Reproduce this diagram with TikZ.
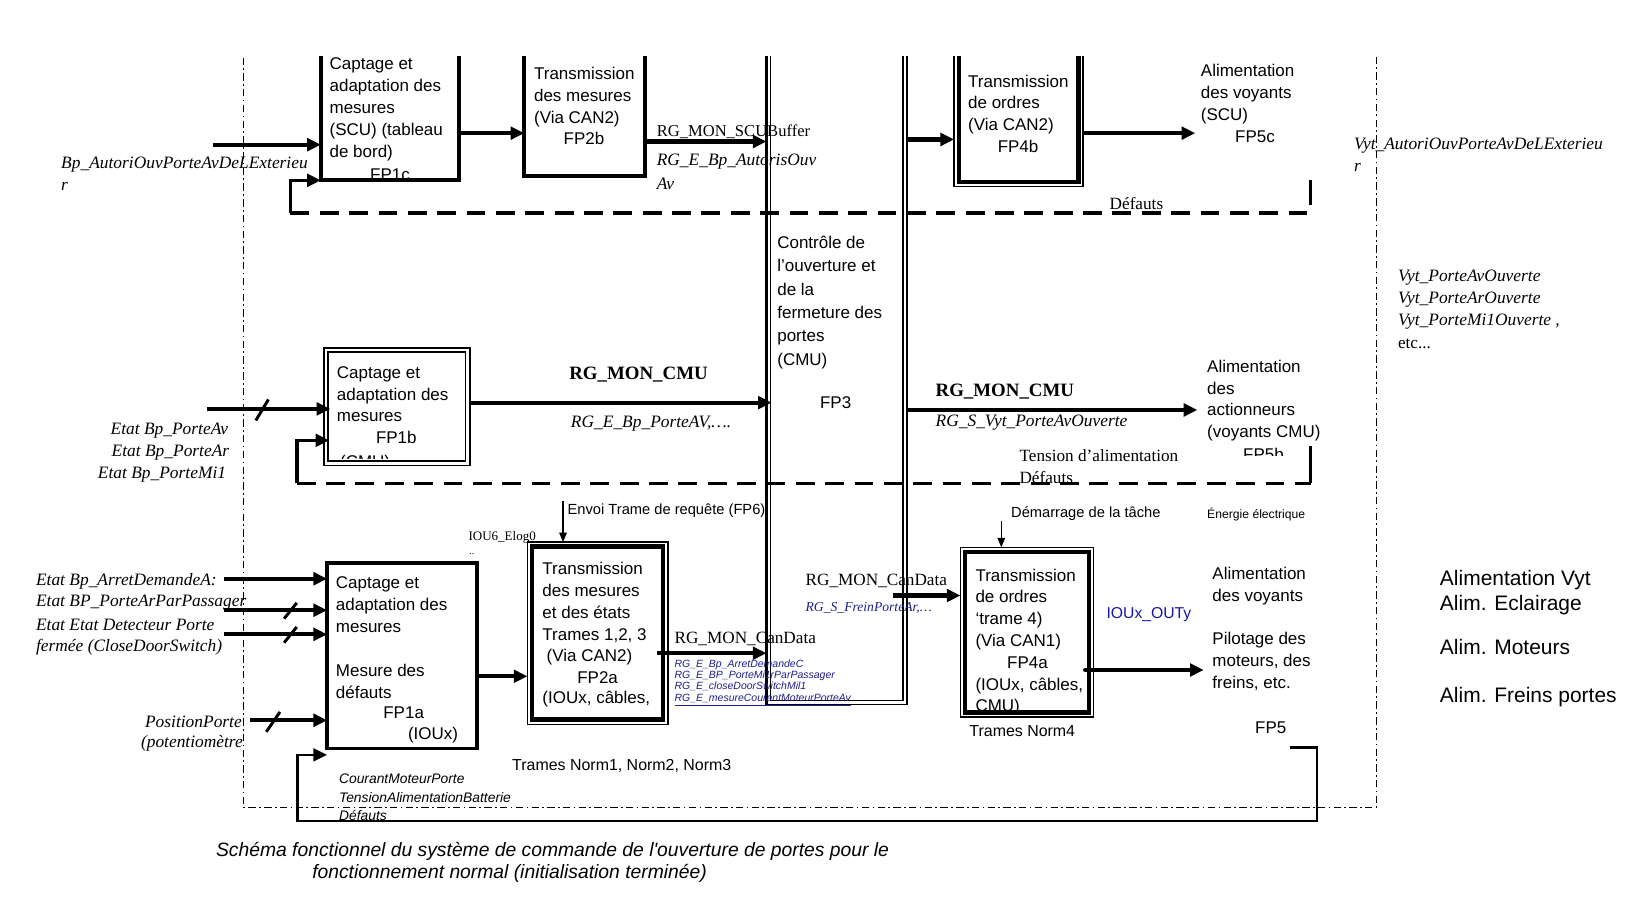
\documentclass[tikz,border=0pt]{standalone}
\usepackage{fontspec}
\setmainfont{Liberation Serif}
\newfontfamily\arl{Liberation Sans}
\newfontfamily\tms{Liberation Serif}
\usetikzlibrary{arrows.meta,calc}
\newcommand\bxf{\arl\fontsize{8.1}{10.4}\selectfont}
\definecolor{navyb}{RGB}{30,30,140}
\definecolor{blueb}{RGB}{20,20,170}
\begin{document}
\begin{tikzpicture}[x=0.5pt,y=-0.5pt,
 rect/.style={draw, rectangle, inner sep=0pt, outer sep=0pt},
 bt/.style={font=\bxf, inner sep=0pt, align=left},
 ar/.style={line width=2pt, -{Triangle[length=6.5pt,width=6pt]}},
 tar/.style={line width=0.6pt, -{Triangle[length=4.5pt,width=3.6pt]}},
 dsh/.style={line width=1.7pt, dash pattern=on 9pt off 5pt},
 frm/.style={line width=0.6pt, dash pattern=on 3.5pt off 1.6pt on 0.8pt off 1.6pt},
 sl/.style={line width=1.4pt},
 it/.style={font=\tms\itshape\fontsize{8.3}{9}\selectfont, inner sep=0pt},
 rm/.style={font=\tms\fontsize{8.2}{9}\selectfont, inner sep=0pt},
 bd/.style={font=\tms\bfseries\fontsize{9}{10}\selectfont, inner sep=0pt},
 sa/.style={font=\arl\fontsize{7}{8}\selectfont, inner sep=0pt},
 sai/.style={font=\arl\itshape\fontsize{6.6}{8}\selectfont, inner sep=0pt},
 big/.style={font=\arl\fontsize{10}{12}\selectfont, inner sep=0pt},
 capt/.style={font=\arl\itshape\fontsize{9.2}{11}\selectfont, inner sep=0pt}
 ]
\useasboundingbox (0,0) rectangle (1568,877);
\begin{scope}
\clip (0,54) rectangle (1568,877);

% frame
\draw[frm] (232,40) -- (232,770) -- (1313,770) -- (1313,40);

% ---------- boxes ----------
\node[rect, line width=1.8pt, minimum width=66pt, minimum height=76pt] (fp1c) at (372,96) {};
\node[rect, line width=1.8pt, minimum width=57.5pt, minimum height=74pt] (fp2b) at (557.5,94) {};
\node[rect, line width=0.8pt, minimum width=67pt, minimum height=326pt] (fp3) at (798,346) {};
\draw[line width=0.8pt] ([shift={(4,4)}]fp3.north west) rectangle ([shift={(-4,-4)}]fp3.south east);
\draw[line width=1.6pt] (fp3.north west) -- (fp3.south west);
\node[rect, line width=0.7pt, minimum width=61.5pt, minimum height=79pt] (fp4b) at (971.5,99) {};
\draw[line width=2.2pt] ([shift={(4.5,4.5)}]fp4b.north west) rectangle ([shift={(-4.5,-4.5)}]fp4b.south east);
\node[rect, line width=0.8pt, minimum width=69.5pt, minimum height=56pt] (fp1b) at (378.5,388) {};
\draw[line width=0.8pt] ([shift={(4,4)}]fp1b.north west) rectangle ([shift={(-4,-4)}]fp1b.south east);
\node[rect, line width=1.6pt, minimum width=71.5pt, minimum height=88.5pt] (fp1a) at (383.5,625.5) {};
\node[rect, line width=0.7pt, minimum width=67pt, minimum height=87pt] (fp2a) at (570,604) {};
\draw[line width=2.2pt] ([shift={(4.5,4.5)}]fp2a.north west) rectangle ([shift={(-4.5,-4.5)}]fp2a.south east);
\node[rect, line width=0.7pt, minimum width=63.5pt, minimum height=81pt] (fp4a) at (979.5,603) {};
\draw[line width=2.2pt] ([shift={(4.5,4.5)}]fp4a.north west) rectangle ([shift={(-4.5,-4.5)}]fp4a.south east);

% ---------- box texts ----------
\begin{scope}
\clip ([shift={(3,3)}]fp1c.north west) rectangle ([shift={(-3,-3)}]fp1c.south east);
\node[bt, anchor=north west] (fp1ct) at (314,55) {Captage et\\adaptation des\\mesures\\(SCU) (tableau\\de bord)};
\node[bt] (fp1cl) at (372,167) {FP1c};
\end{scope}
\node[bt, anchor=north west] (fp2bt) at (509,64) {Transmission\\des mesures\\(Via CAN2)};
\node[bt] (fp2bl) at (557,132) {FP2b};
\node[bt, anchor=north west, font=\arl\fontsize{8.1}{11.1}\selectfont] (fp3t) at (741,225) {Contrôle de\\l’ouverture et\\de la\\fermeture des\\portes\\(CMU)};
\node[bt] (fp3l) at (797,384) {FP3};
\node[bt, anchor=north west] (fp4bt) at (923,71) {Transmission\\de ordres\\(Via CAN2)};
\node[bt] (fp4bl) at (971,140) {FP4b};
\begin{scope}
\clip ([shift={(5,5)}]fp1b.north west) rectangle ([shift={(-5,-7)}]fp1b.south east);
\node[bt, anchor=north west] (fp1bt) at (321,349) {Captage et\\adaptation des\\mesures};
\node[bt] (fp1bl) at (378,417) {FP1b};
\node[bt, anchor=west] (fp1bc) at (324,442) {(CMU)};
\end{scope}
\node[bt, anchor=north west] (fp1at) at (320,550) {Captage et\\adaptation des\\mesures};
\node[bt, anchor=north west] (fp1au) at (320,633) {Mesure des\\défauts};
\node[bt] (fp1al) at (385,680) {FP1a};
\node[bt] (fp1ai) at (413,701) {(IOUx)};
\begin{scope}
\clip ([shift={(6,6)}]fp2a.north west) rectangle ([shift={(-6,-7)}]fp2a.south east);
\node[bt, anchor=north west] (fp2at) at (517,536) {Transmission\\des mesures\\et des états\\Trames 1,2, 3\\\hspace*{2pt}(Via CAN2)};
\node[bt] (fp2al) at (570,646) {FP2a};
\node[bt, anchor=west] (fp2ai) at (517,667) {(IOUx, câbles,};
\end{scope}
\begin{scope}
\clip ([shift={(6,6)}]fp4a.north west) rectangle ([shift={(-6,-7)}]fp4a.south east);
\node[bt, anchor=north west] (fp4at) at (930,542) {Transmission\\de ordres\\‘trame 4)\\(Via CAN1)};
\node[bt] (fp4al) at (980,632) {FP4a};
\node[bt, anchor=north west] (fp4ai) at (930,646) {(IOUx, câbles,\\CMU)};
\end{scope}

% ---------- outputs ----------
\node[bt, anchor=north west] (fp5c) at (1145,61) {Alimentation\\des voyants\\(SCU)};
\node[bt] (fp5cl) at (1197,130) {FP5c};
\node[bt, anchor=north west] (fp5b) at (1151,343) {Alimentation\\des\\actionneurs\\(voyants CMU)};
\begin{scope}
\clip (1150,420) rectangle (1260,434);
\node[bt] (fp5bl) at (1205,433) {FP5b};
\end{scope}
\node[bt, anchor=north west] (fp5a) at (1156,541) {Alimentation\\des voyants};
\node[bt, anchor=north west] (fp5p) at (1156,603) {Pilotage des\\moteurs, des\\freins, etc.};
\node[bt] (fp5l) at (1212,694) {FP5};

% ---------- top row connectors ----------
\coordinate (in1c) at (203,138);
\draw[ar] (in1c) -- (in1c -| fp1c.west);
\draw[ar] (fp1c.east |- 0,127) -- (fp2b.west |- 0,127);
\draw[ar] (fp2b.east |- 0,135) -- (fp3.west |- 0,135);
\draw[ar] (fp3.east |- 0,133) -- (fp4b.west |- 0,133);
\draw[ar] (fp4b.east |- 0,127) -- ($(fp5c.west |- 0,127)+(-5,0)$);
\coordinate (lpa) at (277,203);
\coordinate (lpb) at (1250,203);
\coordinate (lpc) at (1250,172);
\coordinate (lpd) at (1250,196);
\draw[ar, line width=1.7pt] (lpa) -- (lpa |- fp1c.south) -- (fp1c.south west);
\draw[dsh] (lpa) -- (lpb);
\draw[line width=1.7pt] (lpd) -- (lpc);

% ---------- middle row connectors ----------
\coordinate (in1b) at (197,390);
\draw[ar] (in1b) -- ($(in1b -| fp1b.west)+(6,0)$);
\draw[sl] (244,401) -- (256,381);
\coordinate (lqa) at (283,461);
\coordinate (lqb) at (1250,461);
\coordinate (lqc) at (1250,425);
\draw[ar, line width=1.7pt] (lqa) -- (lqa |- 0,420) -- ($(fp1b.west |- 0,420)+(5,0)$);
\draw[dsh] (lqa) -- (lqb);
\draw[line width=1.7pt] (lqb) -- (lqc);
\draw[ar] (fp1b.east |- 0,384) -- ($(fp3.west |- 0,384)+(5,0)$);
\draw[ar] (fp3.east |- 0,391) -- ($(fp5b.west |- 0,391)+(-9,0)$);

% ---------- lower row connectors ----------
\coordinate (in1) at (214,552);
\coordinate (in2) at (214,582);
\coordinate (in3) at (214,605);
\coordinate (in4) at (238,687);
\draw[ar] (in1) -- (in1 -| fp1a.west);
\draw[ar] (in2) -- (in2 -| fp1a.west);
\draw[ar] (in3) -- (in3 -| fp1a.west);
\draw[ar] (in4) -- (in4 -| fp1a.west);
\draw[sl] (271,590) -- (283,575);
\draw[sl] (271,613) -- (283,598);
\draw[sl] (254,698) -- (267,679);
\draw[ar] (fp1a.east |- 0,645) -- (fp2a.west |- 0,645);
\coordinate (env) at (537,478);
\draw[tar] (env) -- (env |- fp2a.north);
\draw[ar] ($(fp2a.east |- 0,623)+(-10,0)$) -- (fp3.west |- 0,623);
\draw[ar] ($(fp3.east |- 0,568)+(-13,0)$) -- (fp4a.west |- 0,568);
\coordinate (dem) at (955,497);
\draw[tar] (dem) -- (dem |- fp4a.north);
\draw[ar, line cap=round] ($(fp4a.east |- 0,639)+(-8,0)$) -- ($(fp5p.west |- 0,639)+(-8,0)$);
\coordinate (lra) at (1230,713);
\coordinate (lrb) at (1256,713);
\coordinate (lrc) at (1256,783);
\coordinate (lrd) at (284,783);
\draw[ar, line width=1.3pt] (lra) -- (lrb) -- (lrc) -- (lrd) -- (lrd |- 0,720) -- (fp1a.west |- 0,720);

% ---------- labels ----------
\node[it, anchor=west] (tbp) at (58,157) {Bp\_AutoriOuvPorteAvDeLExterieu};
\node[it, anchor=west] (tbpr) at (58,178) {r};
\node[rm, anchor=west, font=\tms\fontsize{7.9}{9}\selectfont] (tscu) at (626,126) {RG\_MON\_SCUBuffer};
\node[it, anchor=west] (tauv) at (626,154) {RG\_E\_Bp\_AutorisOuv};
\node[it, anchor=west] (tav) at (626,175) {Av};
\node[rm, anchor=west] (tdef1) at (1058,194) {Défauts};
\node[it, anchor=west] (tvyt) at (1291,139) {Vyt\_AutoriOuvPorteAvDeLExterieu};
\node[it, anchor=west] (tvytr) at (1291,160) {r};

\node[it, anchor=east] (tpav) at (218,411) {Etat Bp\_PorteAv};
\node[it, anchor=east] (tpar) at (219,432) {Etat Bp\_PorteAr};
\node[it, anchor=east] (tpmi) at (216,453) {Etat Bp\_PorteMi1};
\node[bd] (tcmu1) at (609,357) {RG\_MON\_CMU};
\node[it] (tpoav) at (621,404) {RG\_E\_Bp\_PorteAV,….};
\node[bd, anchor=west] (tcmu2) at (892,373) {RG\_MON\_CMU};
\node[it, anchor=west] (tsvyt) at (892,403) {RG\_S\_Vyt\_PorteAvOuverte};
\node[rm, anchor=west] (ttens) at (972,435) {Tension d’alimentation};
\node[rm, anchor=west] (tdef2) at (972,455) {Défauts};
\node[it, anchor=west] (tv1) at (1333,265) {Vyt\_PorteAvOuverte};
\node[it, anchor=west] (tv2) at (1333,286) {Vyt\_PorteArOuverte};
\node[it, anchor=west] (tv3) at (1333,307) {Vyt\_PorteMi1Ouverte ,};
\node[rm, anchor=west] (tv4) at (1333,328) {etc...};

\node[it, anchor=west] (te1) at (34,554) {Etat Bp\_ArretDemandeA:};
\node[it, anchor=west] (te2) at (34,575) {Etat BP\_PorteArParPassager};
\node[it, anchor=west] (te3) at (34,596) {Etat Etat Detecteur Porte};
\node[it, anchor=west] (te4) at (34,617) {fermée (CloseDoorSwitch)};
\node[it, anchor=east] (tpos) at (231,688) {PositionPorte};
\node[it, anchor=east] (tpot) at (232,709) {(potentiomètre};

\node[font=\tms\fontsize{6.2}{7}\selectfont, inner sep=0pt] (tiou) at (479,513) {IOU6\_Elog0};
\node[font=\tms\fontsize{5}{6}\selectfont, inner sep=0pt] (tdots) at (450,528) {..};
\node[sa, anchor=west] (tenv) at (541,487) {Envoi Trame de requête (FP6)};
\node[rm, anchor=west] (tcan1) at (643,609) {RG\_MON\_CanData};
\node[font=\arl\itshape\fontsize{5}{5.35}\selectfont, text=navyb, inner sep=0pt, align=left, anchor=north west] (tblue) at (643,629) {RG\_E\_Bp\_ArretDemandeC\\RG\_E\_BP\_PorteMi1rParPassager\\RG\_E\_closeDoorSwitchMil1\\\underline{RG\_E\_mesureCourantMoteurPorteAv}};
\node[rm, anchor=west] (tcan2) at (768,554) {RG\_MON\_CanData};
\node[font=\tms\itshape\fontsize{6.5}{7}\selectfont, text=navyb, inner sep=0pt, anchor=west] (tfrein) at (768,580) {RG\_S\_FreinPorteAr,…};
\node[sa, anchor=west] (tdem) at (964,490) {Démarrage de la tâche};
\node[font=\arl\fontsize{5.8}{7}\selectfont, inner sep=0pt, anchor=west] (tener) at (1151,491) {Énergie électrique};
\node[font=\arl\fontsize{7.5}{9}\selectfont, text=blueb, inner sep=0pt, anchor=west] (tiox) at (1055,586) {IOUx\_OUTy};
\node[font=\arl\fontsize{7.6}{9}\selectfont, inner sep=0pt] (tnorm4) at (975,697) {Trames Norm4};
\node[font=\arl\fontsize{7.6}{9}\selectfont, inner sep=0pt] (tnorm1) at (593,731) {Trames Norm1, Norm2, Norm3};
\node[sai, anchor=west] (tcour) at (323,743) {CourantMoteurPorte};
\node[sai, anchor=west] (ttensb) at (323,761) {TensionAlimentationBatterie};
\node[sai, anchor=west] (tdefb) at (323,778) {Défauts};

\node[big, anchor=west] (tr1) at (1373,553) {Alimentation Vyt};
\node[big, anchor=west] (tr2) at (1373,577) {Alim. Eclairage};
\node[big, anchor=west] (tr3) at (1373,617) {Alim. Moteurs};
\node[big, anchor=west] (tr4) at (1373,665) {Alim. Freins portes};

\node[capt] (cap1) at (527,812) {Schéma fonctionnel du système de commande de l'ouverture de portes pour le};
\node[capt] (cap2) at (486,833) {fonctionnement normal (initialisation terminée)};
\end{scope}
\end{tikzpicture}
\end{document}
